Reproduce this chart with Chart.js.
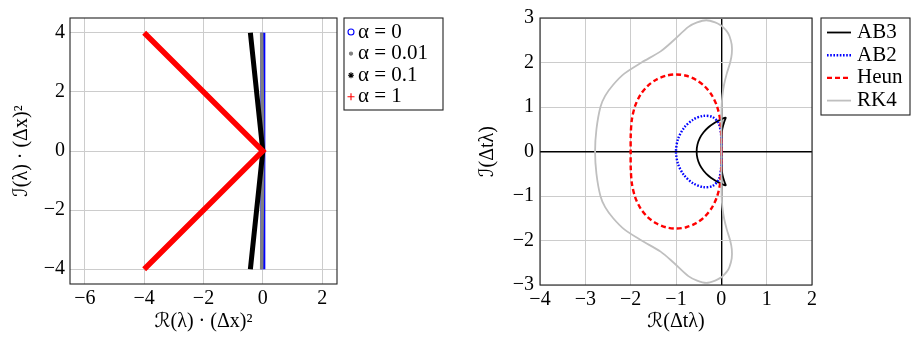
<!DOCTYPE html>
<html>
<head>
<meta charset="utf-8">
<script src="https://cdn.jsdelivr.net/npm/chart.js@4.4.1/dist/chart.umd.min.js"></script>
<style>
  html, body { margin: 0; padding: 0; background: #fff; }
  #wrap { position: relative; width: 911px; height: 337px; }
  canvas { position: absolute; top: 0; }
  #left { left: 0; }
  #right { left: 455px; }
</style>
</head>
<body>
<div id="wrap">
  <canvas id="left" width="455" height="337"></canvas>
  <canvas id="right" width="456" height="337"></canvas>
</div>
<script>
// ---- left panel: eigenvalues for different alpha ----
const alphaLabels = ['α = 0', 'α = 0.01', 'α = 0.1', 'α = 1'];
const alpha0Re = [0, 0];
const alpha0Im = [-4, 4];
const alpha001Re = [-0.04, 0, -0.04];
const alpha001Im = [-4, 0, 4];
const alpha01Re = [-0.42, 0, -0.42];
const alpha01Im = [-4, 0, 4];
const alpha1Re = [-4, 0, -4];
const alpha1Im = [-4, 0, 4];
const leftXTicks = [-6, -4, -2, 0, 2];
const leftYTicks = [-4, -2, 0, 2, 4];

// ---- right panel: stability region boundaries ----
const methodLabels = ['AB3', 'AB2', 'Heun', 'RK4'];
const ab3X = [0, 0.002, 0.022, 0.071, 0.091, 0.097, 0.085, 0.055, -0.041, -0.162, -0.284, -0.391, -0.475, -0.527, -0.545,
  -0.527, -0.475, -0.391, -0.284, -0.162, -0.041, 0.055, 0.085, 0.097, 0.091, 0.071, 0.022, 0.002, 0];
const ab3Y = [0, 0.261, 0.508, 0.688, 0.736, 0.757, 0.759, 0.749, 0.703, 0.636, 0.546, 0.433, 0.301, 0.155, 0,
  -0.155, -0.301, -0.433, -0.546, -0.636, -0.703, -0.749, -0.759, -0.757, -0.736, -0.688, -0.508, -0.261, 0];
const ab2X = [0, -0.005, -0.06, -0.198, -0.4, -0.622, -0.818, -0.953, -1,
  -0.953, -0.818, -0.622, -0.4, -0.198, -0.06, -0.005, 0];
const ab2Y = [0, 0.37, 0.635, 0.776, 0.8, 0.716, 0.538, 0.288, 0,
  -0.288, -0.538, -0.716, -0.8, -0.776, -0.635, -0.37, 0];
const heunX = [0, -0.003, -0.028, -0.098, -0.214, -0.372, -0.562, -0.775, -1, -1.225, -1.438, -1.629, -1.786, -1.902, -1.972, -1.998, -2,
  -1.998, -1.972, -1.902, -1.786, -1.629, -1.438, -1.225, -1, -0.775, -0.562, -0.372, -0.214, -0.098, -0.028, -0.003, 0];
const heunY = [0, 0.384, 0.728, 1.024, 1.272, 1.47, 1.614, 1.702, 1.732, 1.702, 1.614, 1.47, 1.272, 1.024, 0.728, 0.384, 0,
  -0.384, -0.728, -1.024, -1.272, -1.47, -1.614, -1.702, -1.732, -1.702, -1.614, -1.47, -1.272, -1.024, -0.728, -0.384, 0];
const rk4X = [0, 0.001, 0.006, 0.023, 0.06, 0.12, 0.195, 0.231, 0.229, 0.177, 0.122, 0.03, 0, -0.136, -0.33, -0.535, -0.727, -1.05, -1.34, -1.76, -2.14, -2.385, -2.563, -2.667, -2.755, -2.785,
  -2.755, -2.667, -2.563, -2.385, -2.14, -1.76, -1.34, -1.05, -0.727, -0.535, -0.33, -0.136, 0, 0.03, 0.122, 0.177, 0.229, 0.231, 0.195, 0.12, 0.06, 0.023, 0.006, 0.001, 0];
const rk4Y = [0, 0.5, 1, 1.25, 1.5, 1.75, 2, 2.2, 2.4, 2.6, 2.7, 2.8, 2.828, 2.9, 2.95, 2.9, 2.8, 2.5, 2.25, 2, 1.75, 1.5, 1.25, 1, 0.5, 0,
  -0.5, -1, -1.25, -1.5, -1.75, -2, -2.25, -2.5, -2.8, -2.9, -2.95, -2.9, -2.828, -2.8, -2.7, -2.6, -2.4, -2.2, -2, -1.75, -1.5, -1.25, -1, -0.5, 0];
const rightXTicks = [-4, -3, -2, -1, 0, 1, 2];
const rightYTicks = [-3, -2, -1, 0, 1, 2, 3];

const FAMILY = '"Liberation Serif", "DejaVu Sans", serif';
const tickFont = { family: FAMILY, size: 20 };
const titleFont = { family: FAMILY, size: 20 };
const GRID = '#cccccc';

const pts = (xs, ys) => xs.map((x, i) => ({ x: x, y: ys[i] }));
const minus = v => (v < 0 ? '\u2212' + Math.abs(v) : String(v));

// frame around plot + boxed legend drawn next to it
const boxLegend = {
  id: 'boxLegend',
  afterDraw(chart, args, opts) {
    const { ctx, chartArea: a } = chart;
    ctx.save();
    ctx.strokeStyle = '#222';
    ctx.lineWidth = 1.1;
    ctx.strokeRect(a.left, a.top, a.width, a.height);

    const x0 = a.right + opts.gap, y0 = a.top;
    ctx.strokeRect(x0, y0, opts.width, opts.height);
    chart.data.datasets.forEach((ds, i) => {
      const y = y0 + opts.first + i * opts.step;
      if (opts.kind === 'marker') {
        const m = ds.marker;
        ctx.strokeStyle = m.color;
        ctx.fillStyle = m.fill ? m.color : 'rgba(0,0,0,0)';
        ctx.lineWidth = 1.1;
        Chart.helpers.drawPoint(ctx, { pointStyle: m.style, radius: m.r, rotation: 0, borderWidth: 1.1 }, x0 + opts.markX, y);
      } else {
        ctx.strokeStyle = ds.borderColor;
        ctx.lineWidth = ds.borderWidth;
        ctx.setLineDash(ds.borderDash || []);
        ctx.beginPath();
        ctx.moveTo(x0 + opts.lineX0, y);
        ctx.lineTo(x0 + opts.lineX1, y);
        ctx.stroke();
        ctx.setLineDash([]);
      }
      ctx.fillStyle = '#000';
      ctx.font = opts.fontSize + 'px ' + FAMILY;
      ctx.textBaseline = 'middle';
      ctx.fillText(ds.label, x0 + opts.textX, y);
    });
    ctx.restore();
  }
};

function axis(min, max, ticks, size, horizontal, title, titlePad, tickPad, zeroAxis) {
  return {
    type: 'linear',
    min: min,
    max: max,
    afterBuildTicks: s => { s.ticks = ticks.map(v => ({ value: v })); },
    afterFit: s => { if (horizontal) s.height = size; else s.width = size; },
    grid: {
      drawTicks: false,
      color: c => (zeroAxis && c.tick && c.tick.value === 0 ? '#000' : GRID),
      lineWidth: c => (zeroAxis && c.tick && c.tick.value === 0 ? 1.4 : 1)
    },
    border: { display: false },
    ticks: { font: tickFont, color: '#000', padding: tickPad, callback: minus },
    title: { display: true, text: title, font: titleFont, color: '#000', padding: titlePad }
  };
}

new Chart(document.getElementById('left'), {
  type: 'scatter',
  data: {
    datasets: [
      { label: alphaLabels[0], data: pts(alpha0Re, alpha0Im), borderColor: '#0000ff', borderWidth: 5, order: 3,
        marker: { style: 'circle', r: 3, fill: false, color: '#0000ff' } },
      { label: alphaLabels[1], data: pts(alpha001Re, alpha001Im), borderColor: '#808080', borderWidth: 3.5, order: 2,
        marker: { style: 'circle', r: 1.6, fill: true, color: '#808080' } },
      { label: alphaLabels[2], data: pts(alpha01Re, alpha01Im), borderColor: '#000000', borderWidth: 5, order: 1,
        marker: { style: 'star', r: 3, fill: true, color: '#000000' } },
      { label: alphaLabels[3], data: pts(alpha1Re, alpha1Im), borderColor: '#ff0000', borderWidth: 5.5, order: 0,
        marker: { style: 'cross', r: 3.5, fill: true, color: '#ff0000' } }
    ].map(d => Object.assign({ showLine: true, pointRadius: 0, tension: 0, borderJoinStyle: 'miter' }, d))
  },
  options: {
    responsive: false,
    animation: false,
    layout: { padding: { left: 0, top: 18, right: 118, bottom: 0 } },
    scales: {
      x: axis(-6.5, 2.5, leftXTicks, 53, true, 'ℛ(λ) · (Δx)²', { top: 0, bottom: 3 }, 3, false),
      y: axis(-4.5, 4.5, leftYTicks, 70, false, 'ℐ(λ) · (Δx)²', { top: 10, bottom: 0 }, 5, false)
    },
    plugins: {
      legend: { display: false },
      tooltip: { enabled: false },
      boxLegend: { kind: 'marker', gap: 7, width: 99, height: 92, first: 14, step: 21.6, markX: 7, textX: 14, fontSize: 21 }
    }
  },
  plugins: [boxLegend]
});

new Chart(document.getElementById('right'), {
  type: 'scatter',
  data: {
    datasets: [
      { label: methodLabels[0], data: pts(ab3X, ab3Y), borderColor: '#000000', borderWidth: 1.8, order: 3 },
      { label: methodLabels[1], data: pts(ab2X, ab2Y), borderColor: '#0000ff', borderWidth: 2.4, borderDash: [1.6, 1.6], order: 2 },
      { label: methodLabels[2], data: pts(heunX, heunY), borderColor: '#ff0000', borderWidth: 2.4, borderDash: [5, 3], order: 1 },
      { label: methodLabels[3], data: pts(rk4X, rk4Y), borderColor: '#bfbfbf', borderWidth: 1.8, order: 0 }
    ].map(d => Object.assign({ showLine: true, pointRadius: 0, tension: 0.3 }, d))
  },
  options: {
    responsive: false,
    animation: false,
    layout: { padding: { left: 0, top: 13, right: 99, bottom: 0 } },
    scales: {
      x: axis(-4, 2, rightXTicks, 52, true, 'ℛ(Δtλ)', { top: 0, bottom: 3 }, 3, true),
      y: axis(-3, 3, rightYTicks, 85, false, 'ℐ(Δtλ)', { top: 21, bottom: 0 }, 6, true)
    },
    plugins: {
      legend: { display: false },
      tooltip: { enabled: false },
      boxLegend: { kind: 'line', gap: 9, width: 89, height: 97, first: 14.5, step: 22.7, lineX0: 6, lineX1: 30, textX: 36, fontSize: 21 }
    }
  },
  plugins: [boxLegend]
});
</script>
</body>
</html>
